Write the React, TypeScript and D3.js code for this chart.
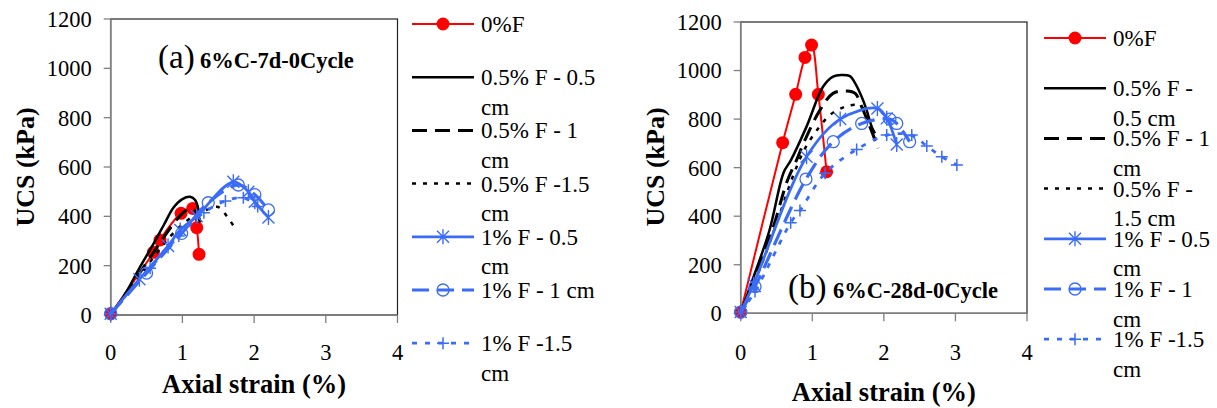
import * as d3 from 'd3';

// ---- data ----
type Pt = [number, number];

const xTicks = [0, 1, 2, 3, 4];
const yTicks = [0, 200, 400, 600, 800, 1000, 1200];

const legendA: string[][] = [
  ['0%F'],
  ['0.5% F - 0.5', 'cm'],
  ['0.5% F - 1', 'cm'],
  ['0.5% F -1.5', 'cm'],
  ['1% F - 0.5', 'cm'],
  ['1% F - 1 cm'],
  ['1% F -1.5', 'cm'],
];
const legendB: string[][] = [
  ['0%F'],
  ['0.5% F -', '0.5 cm'],
  ['0.5% F - 1', 'cm'],
  ['0.5% F -', '1.5 cm'],
  ['1% F - 0.5', 'cm'],
  ['1% F - 1', 'cm'],
  ['1% F -1.5', 'cm'],
];

// (a) 6%C-7d-0Cycle
const a_0F: Pt[] = [[0, 5], [0.595, 254], [0.688, 304], [0.981, 412], [1.144, 432], [1.2, 354], [1.232, 246]];
const a_05_05: Pt[] = [[0, 0], [0.2, 85], [0.4, 190], [0.6, 290], [0.75, 370], [0.874, 435], [1.0, 470], [1.107, 479], [1.18, 465], [1.23, 415]];
const a_05_1: Pt[] = [[0, 0], [0.3, 125], [0.6, 255], [0.85, 360], [1.0, 412], [1.1, 432], [1.18, 422], [1.25, 375]];
const a_05_15: Pt[] = [[0, 0], [0.3, 115], [0.6, 235], [0.9, 340], [1.15, 400], [1.39, 432], [1.5, 438], [1.64, 392], [1.76, 340]];
const a_1_05: Pt[] = [[0, 5], [0.4, 145], [0.8, 280], [0.97, 345], [1.2, 400], [1.71, 540], [1.92, 500], [2.01, 459], [2.2, 395]];
const a_1_1: Pt[] = [[0, 5], [0.5, 170], [0.99, 331], [1.36, 455], [1.78, 527], [2.01, 488], [2.2, 426]];
const a_1_15: Pt[] = [[0, 5], [0.55, 190], [0.95, 320], [1.3, 415], [1.6, 462], [1.85, 475], [2.05, 440]];

// (b) 6%C-28d-0Cycle
const b_0F: Pt[] = [[0, 5], [0.586, 703], [0.768, 902], [0.898, 1054], [0.99, 1105], [1.085, 902], [1.2, 583]];
const b_05_05: Pt[] = [[0, 0], [0.15, 125], [0.4, 340], [0.6, 580], [0.7, 630], [0.92, 769], [1.15, 933], [1.29, 975], [1.4, 982], [1.527, 977], [1.6, 947], [1.69, 892], [1.76, 837], [1.83, 769], [1.876, 741]];
const b_05_1: Pt[] = [[0, 0], [0.2, 150], [0.45, 350], [0.65, 545], [0.78, 631], [0.898, 714], [1.107, 837], [1.29, 906], [1.48, 916], [1.6, 906], [1.69, 851], [1.806, 768], [1.92, 680]];
const b_05_15: Pt[] = [[0, 0], [0.25, 170], [0.5, 370], [0.75, 580], [0.9, 680], [1.085, 762], [1.247, 817], [1.457, 851], [1.62, 858], [1.71, 844], [1.806, 775], [1.9, 690]];
const b_1_05: Pt[] = [[0, 5], [0.18, 120], [0.92, 645], [1.39, 800], [1.91, 844], [2.04, 803], [2.18, 695]];
const b_1_1: Pt[] = [[0, 5], [0.2, 110], [0.912, 553], [1.293, 707], [1.69, 782], [2.085, 800], [2.18, 782], [2.36, 707]];
const b_1_15: Pt[] = [[0, 5], [0.2, 90], [0.698, 373], [0.828, 423], [1.18, 577], [1.62, 675], [2.04, 734], [2.39, 734], [2.6, 689], [2.81, 645], [3.02, 611]];

const seriesA = [a_0F, a_05_05, a_05_1, a_05_15, a_1_05, a_1_1, a_1_15];
const seriesB = [b_0F, b_05_05, b_05_1, b_05_15, b_1_05, b_1_1, b_1_15];

// ---- styles ----
const RED = '#ff0000';
const BLUE = '#3a6cf6';
const FONT = 'Liberation Serif';

type Marker = 'dot' | 'star' | 'circle' | 'plus' | null;
const styles: { color: string; width: number; dash: string | null; marker: Marker }[] = [
  { color: RED, width: 2, dash: null, marker: 'dot' },
  { color: '#000', width: 2.5, dash: null, marker: null },
  { color: '#000', width: 3, dash: '15,8', marker: null },
  { color: '#000', width: 2.5, dash: '4,7', marker: null },
  { color: BLUE, width: 2.8, dash: null, marker: 'star' },
  { color: BLUE, width: 3.2, dash: '17,8', marker: 'circle' },
  { color: BLUE, width: 2.8, dash: '5,8', marker: 'plus' },
];

function MarkerShape({ type, x, y, color }: { type: Marker; x: number; y: number; color: string }) {
  if (type === 'dot') return <circle cx={x} cy={y} r={6.5} fill={color} />;
  if (type === 'circle') return <circle cx={x} cy={y} r={6} fill="none" stroke={color} strokeWidth={1.3} />;
  if (type === 'plus') {
    const s = 6;
    return (
      <path d={`M${x - s},${y}H${x + s}M${x},${y - s}V${y + s}`} stroke={color} strokeWidth={1.5} fill="none" />
    );
  }
  if (type === 'star') {
    const s = 6;
    return (
      <path
        d={`M${x - s},${y - s}L${x + s},${y + s}M${x - s},${y + s}L${x + s},${y - s}M${x},${y - s - 1.5}V${y + s + 1.5}`}
        stroke={color}
        strokeWidth={1.4}
        fill="none"
      />
    );
  }
  return null;
}

interface PanelProps {
  series: Pt[][];
  legend: string[][];
  xRange: [number, number];
  yRange: [number, number];
  legendX: number;
  legendY0: number;
  legendStep: number;
  tag: string;
  title: string;
  tagX: number;
  titleX: number;
  tagY: number;
  yTitleX: number;
  xTitleY: number;
}

function Panel(p: PanelProps) {
  const x = d3.scaleLinear().domain([0, 4]).range(p.xRange);
  const y = d3.scaleLinear().domain([0, 1200]).range(p.yRange);
  const line = d3
    .line<Pt>()
    .x(d => x(d[0]))
    .y(d => y(d[1]))
    .curve(d3.curveCatmullRom.alpha(0.5));

  const [x0, x1] = p.xRange;
  const [yb, yt] = p.yRange;

  return (
    <g>
      {/* frame */}
      <rect x={x0} y={yt} width={x1 - x0} height={yb - yt} fill="#fff" stroke="#222" strokeWidth={1.2} />
      <line x1={x0} x2={x0} y1={yt} y2={yb} stroke="#7f7f7f" strokeWidth={1.6} />
      <line x1={x0} x2={x1} y1={yb} y2={yb} stroke="#7f7f7f" strokeWidth={1.6} />

      {/* y axis */}
      {yTicks.map(t => (
        <g key={'y' + t}>
          <line x1={x0 - 7} x2={x0} y1={y(t)} y2={y(t)} stroke="#7f7f7f" strokeWidth={1.3} />
          <text x={x0 - 19} y={y(t)} dy="0.35em" textAnchor="end" fontSize={22.5} fontFamily={FONT}>
            {t}
          </text>
        </g>
      ))}
      {/* x axis */}
      {xTicks.map(t => (
        <g key={'x' + t}>
          <line x1={x(t)} x2={x(t)} y1={yb} y2={yb + 8} stroke="#7f7f7f" strokeWidth={1.3} />
          <text x={x(t)} y={352} dy="0.35em" textAnchor="middle" fontSize={22.5} fontFamily={FONT}>
            {t}
          </text>
        </g>
      ))}

      <text
        transform={`translate(${p.yTitleX},167) rotate(-90)`}
        textAnchor="middle"
        dy="0.35em"
        fontSize={26}
        fontWeight="bold"
        fontFamily={FONT}
      >
        UCS (kPa)
      </text>
      <text
        x={(x0 + x1) / 2}
        y={p.xTitleY}
        textAnchor="middle"
        fontSize={26.5}
        fontWeight="bold"
        fontFamily={FONT}
      >
        Axial strain (%)
      </text>

      {/* panel tag */}
      <text x={p.tagX} y={p.tagY} fontSize={33} fontFamily={FONT}>
        {p.tag}
      </text>
      <text x={p.titleX} y={p.tagY} fontSize={22.5} fontWeight="bold" fontFamily={FONT}>
        {p.title}
      </text>

      {/* series */}
      {p.series.map((data, i) => {
        const st = styles[i];
        return (
          <g key={'s' + i}>
            <path
              d={line(data) || ''}
              fill="none"
              stroke={st.color}
              strokeWidth={st.width}
              strokeDasharray={st.dash || undefined}
              strokeLinejoin="round"
            />
            {st.marker &&
              data.map((d, j) => <MarkerShape key={j} type={st.marker} x={x(d[0])} y={y(d[1])} color={st.color} />)}
          </g>
        );
      })}

      {/* legend */}
      {p.legend.map((lines, i) => {
        const st = styles[i];
        const ly = p.legendY0 + i * p.legendStep;
        const lx0 = p.legendX;
        const lx1 = p.legendX + 62;
        return (
          <g key={'l' + i}>
            <line
              x1={lx0}
              x2={lx1}
              y1={ly}
              y2={ly}
              stroke={st.color}
              strokeWidth={st.width}
              strokeDasharray={st.dash || undefined}
            />
            {st.marker && <MarkerShape type={st.marker} x={(lx0 + lx1) / 2} y={ly} color={st.color} />}
            {lines.map((t, k) => (
              <text key={k} x={lx1 + 7} y={ly + k * 29.5} dy="0.35em" fontSize={23} fontFamily={FONT}>
                {t}
              </text>
            ))}
          </g>
        );
      })}
    </g>
  );
}

export default function App() {
  return (
    <svg
      width={1217}
      height={408}
      viewBox="0 0 1217 408"
      style={{ position: 'absolute', left: 0, top: 0, background: '#fff' }}
    >
      <rect width={1217} height={408} fill="#fff" />
      <Panel
        series={seriesA}
        legend={legendA}
        xRange={[110.7, 397.5]}
        yRange={[315, 19]}
        legendX={412}
        legendY0={24}
        legendStep={53.2}
        tag="(a)"
        title="6%C-7d-0Cycle"
        tagX={158}
        titleX={200}
        tagY={68}
        yTitleX={25}
        xTitleY={393}
      />
      <Panel
        series={seriesB}
        legend={legendB}
        xRange={[740.7, 1027]}
        yRange={[313.3, 22]}
        legendX={1044}
        legendY0={38}
        legendStep={50.2}
        tag="(b)"
        title="6%C-28d-0Cycle"
        tagX={788}
        titleX={833}
        tagY={298}
        yTitleX={655}
        xTitleY={401}
      />
    </svg>
  );
}
